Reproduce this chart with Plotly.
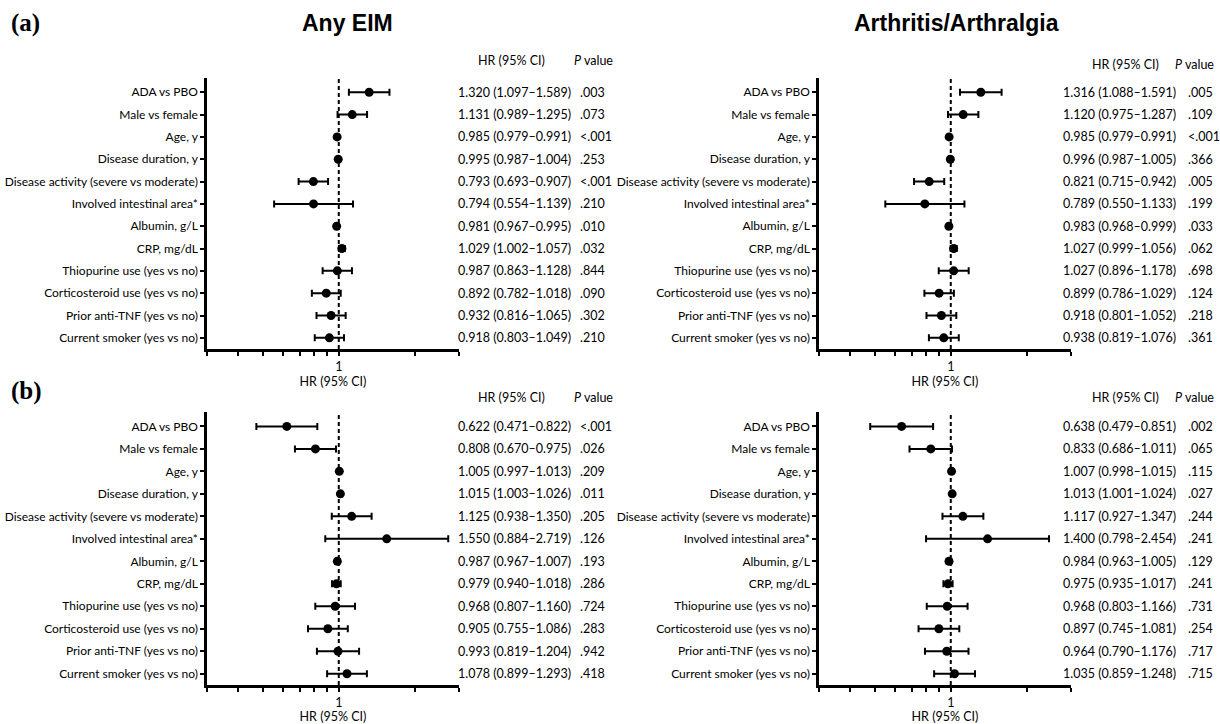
import plotly.graph_objects as go

W, H = 1220, 724

factors = [
    "ADA vs PBO", "Male vs female", "Age, y", "Disease duration, y",
    "Disease activity (severe vs moderate)", "Involved intestinal area*",
    "Albumin, g/L", "CRP, mg/dL", "Thiopurine use (yes vs no)",
    "Corticosteroid use (yes vs no)", "Prior anti-TNF (yes vs no)",
    "Current smoker (yes vs no)",
]

# (a) Any EIM
a_eim_hr = [1.320, 1.131, 0.985, 0.995, 0.793, 0.794, 0.981, 1.029, 0.987, 0.892, 0.932, 0.918]
a_eim_lo = [1.097, 0.989, 0.979, 0.987, 0.693, 0.554, 0.967, 1.002, 0.863, 0.782, 0.816, 0.803]
a_eim_hi = [1.589, 1.295, 0.991, 1.004, 0.907, 1.139, 0.995, 1.057, 1.128, 1.018, 1.065, 1.049]
a_eim_p = [".003", ".073", "<.001", ".253", "<.001", ".210", ".010", ".032", ".844", ".090", ".302", ".210"]

# (a) Arthritis/Arthralgia
a_art_hr = [1.316, 1.120, 0.985, 0.996, 0.821, 0.789, 0.983, 1.027, 1.027, 0.899, 0.918, 0.938]
a_art_lo = [1.088, 0.975, 0.979, 0.987, 0.715, 0.550, 0.968, 0.999, 0.896, 0.786, 0.801, 0.819]
a_art_hi = [1.591, 1.287, 0.991, 1.005, 0.942, 1.133, 0.999, 1.056, 1.178, 1.029, 1.052, 1.076]
a_art_p = [".005", ".109", "<.001", ".366", ".005", ".199", ".033", ".062", ".698", ".124", ".218", ".361"]

# (b) Any EIM
b_eim_hr = [0.622, 0.808, 1.005, 1.015, 1.125, 1.550, 0.987, 0.979, 0.968, 0.905, 0.993, 1.078]
b_eim_lo = [0.471, 0.670, 0.997, 1.003, 0.938, 0.884, 0.967, 0.940, 0.807, 0.755, 0.819, 0.899]
b_eim_hi = [0.822, 0.975, 1.013, 1.026, 1.350, 2.719, 1.007, 1.018, 1.160, 1.086, 1.204, 1.293]
b_eim_p = ["<.001", ".026", ".209", ".011", ".205", ".126", ".193", ".286", ".724", ".283", ".942", ".418"]

# (b) Arthritis/Arthralgia
b_art_hr = [0.638, 0.833, 1.007, 1.013, 1.117, 1.400, 0.984, 0.975, 0.968, 0.897, 0.964, 1.035]
b_art_lo = [0.479, 0.686, 0.998, 1.001, 0.927, 0.798, 0.963, 0.935, 0.803, 0.745, 0.790, 0.859]
b_art_hi = [0.851, 1.011, 1.015, 1.024, 1.347, 2.454, 1.005, 1.017, 1.166, 1.081, 1.176, 1.248]
b_art_p = [".002", ".065", ".115", ".027", ".244", ".241", ".129", ".241", ".731", ".254", ".717", ".715"]

x_ticks = [0.3, 0.4, 0.5, 0.6, 0.7, 0.8, 0.9, 1, 2, 3]
x_ticktext = ["1" if v == 1 else "" for v in x_ticks]

LABEL_FONT = "Lato"
FS_LABEL = 12      # row labels on the y axes
FS_TEXT = 12.5     # HR / P value columns and headers


def px_x(p):
    return p / W


def px_y(p):
    return 1 - p / H


panels = [
    # data, plot x-extent (px), plot y-extent (px), text-column x (px), header y (px)
    dict(hr=a_eim_hr, lo=a_eim_lo, hi=a_eim_hi, p=a_eim_p,
         xs=(207, 459), ys=(78, 349), hr_x=456, p_x=578, hh_x=476, ph_x=572, head_y=61),
    dict(hr=a_art_hr, lo=a_art_lo, hi=a_art_hi, p=a_art_p,
         xs=(819, 1071), ys=(78, 349), hr_x=1061, p_x=1186, hh_x=1090, ph_x=1173, head_y=64),
    dict(hr=b_eim_hr, lo=b_eim_lo, hi=b_eim_hi, p=b_eim_p,
         xs=(207, 459), ys=(412, 685), hr_x=456, p_x=578, hh_x=476, ph_x=572, head_y=397),
    dict(hr=b_art_hr, lo=b_art_lo, hi=b_art_hi, p=b_art_p,
         xs=(819, 1071), ys=(412, 685), hr_x=1061, p_x=1186, hh_x=1090, ph_x=1173, head_y=397),
]

fig = go.Figure()
annotations = []
shapes = []
rows = list(range(len(factors)))

for i, pnl in enumerate(panels, start=1):
    sfx = "" if i == 1 else str(i)
    hr, lo, hi = pnl["hr"], pnl["lo"], pnl["hi"]
    fig.add_trace(go.Scatter(
        x=hr, y=rows, mode="markers",
        marker=dict(color="black", size=9),
        error_x=dict(type="data", symmetric=False,
                     array=[h - m for h, m in zip(hi, hr)],
                     arrayminus=[m - l for m, l in zip(hr, lo)],
                     color="black", thickness=2, width=3.5),
        xaxis="x" + sfx, yaxis="y" + sfx, showlegend=False, hoverinfo="skip",
    ))

    x0, x1 = pnl["xs"]
    y0, y1 = pnl["ys"]
    fig.layout["xaxis" + sfx] = dict(
        type="log", range=[-0.5228787, 0.4771213],
        domain=[px_x(x0), px_x(x1)], anchor="y" + sfx,
        showline=True, linecolor="black", linewidth=2.5,
        showgrid=False, zeroline=False,
        tickmode="array", tickvals=x_ticks, ticktext=x_ticktext,
        ticks="outside", ticklen=4, tickwidth=1.6, tickcolor="black",
        tickfont=dict(family=LABEL_FONT, size=FS_TEXT, color="black"),
        title=dict(text="HR (95% CI)", standoff=2,
                   font=dict(family=LABEL_FONT, size=FS_TEXT, color="black")),
    )
    fig.layout["yaxis" + sfx] = dict(
        range=[11.5, -0.64], domain=[px_y(y1), px_y(y0)], anchor="x" + sfx,
        showline=True, linecolor="black", linewidth=2.5,
        showgrid=False, zeroline=False,
        tickmode="array", tickvals=rows, ticktext=factors,
        ticks="outside", ticklen=4, tickwidth=2, tickcolor="black",
        tickfont=dict(family=LABEL_FONT, size=FS_LABEL, color="black"),
    )

    # reference line at HR = 1
    shapes.append(dict(type="line", xref="x" + sfx, yref="y" + sfx + " domain",
                       x0=1, x1=1, y0=0, y1=1,
                       line=dict(color="black", width=2, dash="4px,3px")))

    # HR (95% CI) and P value columns
    for r in rows:
        annotations.append(dict(
            xref="paper", yref="y" + sfx, x=px_x(pnl["hr_x"]), y=r,
            xanchor="left", yanchor="middle", showarrow=False,
            text=f"{hr[r]:.3f} ({lo[r]:.3f}\u2013{hi[r]:.3f})",
            font=dict(family=LABEL_FONT, size=FS_TEXT, color="black")))
        annotations.append(dict(
            xref="paper", yref="y" + sfx, x=px_x(pnl["p_x"]), y=r,
            xanchor="left", yanchor="middle", showarrow=False,
            text=pnl["p"][r],
            font=dict(family=LABEL_FONT, size=FS_TEXT, color="black")))
    annotations.append(dict(
        xref="paper", yref="paper", x=px_x(pnl["hh_x"]), y=px_y(pnl["head_y"]),
        xanchor="left", yanchor="middle", showarrow=False, text="HR (95% CI)",
        font=dict(family=LABEL_FONT, size=FS_TEXT, color="black")))
    annotations.append(dict(
        xref="paper", yref="paper", x=px_x(pnl["ph_x"]), y=px_y(pnl["head_y"]),
        xanchor="left", yanchor="middle", showarrow=False, text="<i>P</i> value",
        font=dict(family=LABEL_FONT, size=FS_TEXT, color="black")))

# column titles
for txt, cx in [("Any EIM", 347), ("Arthritis/Arthralgia", 956)]:
    annotations.append(dict(
        xref="paper", yref="paper", x=px_x(cx), y=px_y(23),
        xanchor="center", yanchor="middle", showarrow=False, text=f"<b>{txt}</b>",
        font=dict(family="Liberation Sans", size=23, color="black")))

# panel letters
for txt, cy in [("(a)", 23), ("(b)", 391)]:
    annotations.append(dict(
        xref="paper", yref="paper", x=px_x(9), y=px_y(cy),
        xanchor="left", yanchor="middle", showarrow=False, text=f"<b>{txt}</b>",
        font=dict(family="Liberation Serif", size=25, color="black")))

fig.update_layout(
    width=W, height=H,
    margin=dict(l=0, r=0, t=0, b=0),
    paper_bgcolor="white", plot_bgcolor="white",
    annotations=annotations, shapes=shapes,
)

fig.write_html("out.html")
